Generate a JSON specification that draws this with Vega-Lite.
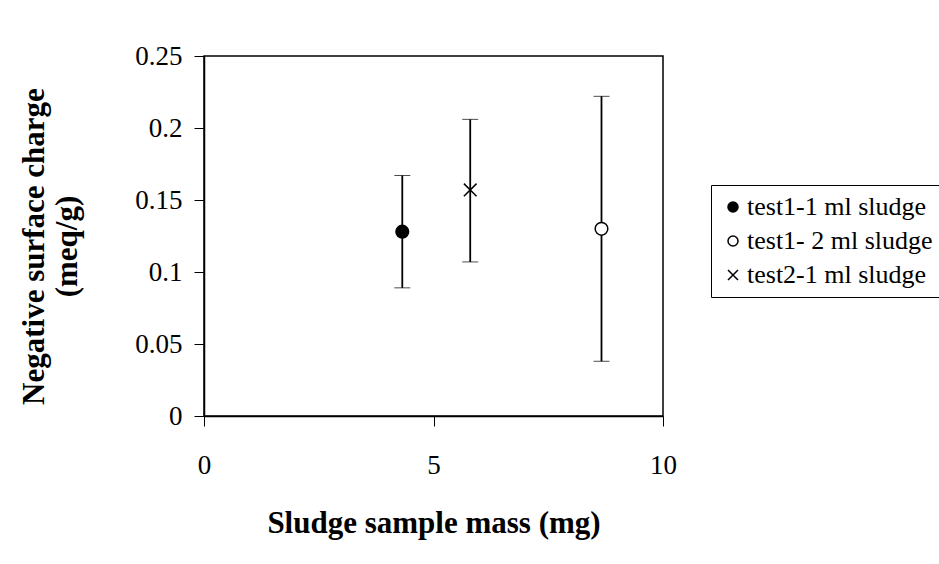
{
  "$schema": "https://vega.github.io/schema/vega-lite/v6.json",
  "width": 459,
  "height": 360,
  "autosize": {"type": "none"},
  "padding": {"left": 204, "top": 56, "right": 276, "bottom": 148},
  "background": "white",
  "config": {
    "font": "Liberation Serif",
    "view": {"stroke": "black", "strokeWidth": 1.5, "fill": "white"},
    "axis": {
      "grid": false,
      "labelFlush": false,
      "domainColor": "black",
      "domainWidth": 1.5,
      "tickColor": "black",
      "tickWidth": 1,
      "tickSize": 10,
      "labelColor": "black",
      "labelFont": "Liberation Serif",
      "labelFontSize": 27,
      "titleColor": "black",
      "titleFont": "Liberation Serif",
      "titleFontSize": 31,
      "titleFontWeight": "bold"
    },
    "legend": {
      "strokeColor": "black",
      "fillColor": "white",
      "padding": 9,
      "labelFont": "Liberation Serif",
      "labelFontSize": 26,
      "labelColor": "black",
      "labelLimit": 400,
      "labelOffset": 1,
      "rowPadding": 8,
      "symbolSize": 100,
      "symbolStrokeWidth": 1.5
    }
  },
  "data": {
    "values": [
      {"series": "test1-1 ml sludge", "mass": 4.32, "charge": 0.128, "lo": 0.089, "hi": 0.167},
      {"series": "test1- 2 ml sludge", "mass": 8.66, "charge": 0.130, "lo": 0.038, "hi": 0.222},
      {"series": "test2-1 ml sludge", "mass": 5.80, "charge": 0.157, "lo": 0.107, "hi": 0.206}
    ]
  },
  "layer": [
    {
      "mark": {
        "type": "errorbar",
        "color": "black",
        "rule": {"strokeWidth": 1.8},
        "ticks": {"size": 16, "strokeWidth": 1.6}
      },
      "encoding": {
        "x": {"field": "mass", "type": "quantitative", "scale": {"domain": [0, 10]}, "title": "Sludge sample mass (mg)"},
        "y": {"field": "lo", "type": "quantitative", "scale": {"domain": [0, 0.25]}, "title": ["Negative surface charge", "(meq/g)"]},
        "y2": {"field": "hi"}
      }
    },
    {
      "mark": {"type": "point", "strokeWidth": 1.5, "opacity": 1, "size": 160},
      "encoding": {
        "x": {
          "field": "mass",
          "type": "quantitative",
          "scale": {"domain": [0, 10]},
          "title": "Sludge sample mass (mg)",
          "axis": {"values": [0, 5, 10], "labelPadding": 26, "titlePadding": 30}
        },
        "y": {
          "field": "charge",
          "type": "quantitative",
          "scale": {"domain": [0, 0.25]},
          "title": ["Negative surface charge", "(meq/g)"],
          "axis": {"values": [0, 0.05, 0.1, 0.15, 0.2, 0.25], "format": ".2~f", "labelPadding": 12, "titlePadding": 51, "titleLineHeight": 33, "titleY": 190}
        },
        "shape": {
          "field": "series",
          "type": "nominal",
          "scale": {
            "domain": ["test1-1 ml sludge", "test1- 2 ml sludge", "test2-1 ml sludge"],
            "range": ["circle", "circle", "M-1,-1L1,1M-1,1L1,-1"]
          },
          "legend": {"title": null, "orient": "none", "legendX": 507, "legendY": 129}
        },
        "fill": {
          "field": "series",
          "type": "nominal",
          "scale": {
            "domain": ["test1-1 ml sludge", "test1- 2 ml sludge", "test2-1 ml sludge"],
            "range": ["black", "white", "transparent"]
          },
          "legend": {"title": null, "orient": "none", "legendX": 507, "legendY": 129}
        },
        "stroke": {
          "field": "series",
          "type": "nominal",
          "scale": {
            "domain": ["test1-1 ml sludge", "test1- 2 ml sludge", "test2-1 ml sludge"],
            "range": ["black", "black", "black"]
          },
          "legend": {"title": null, "orient": "none", "legendX": 507, "legendY": 129}
        }
      }
    }
  ]
}
